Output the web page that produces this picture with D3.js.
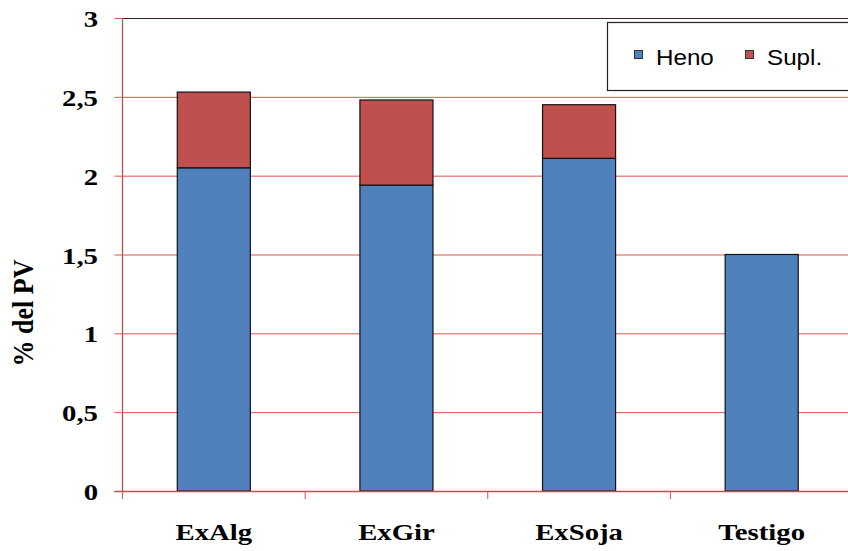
<!DOCTYPE html>
<html><head><meta charset="utf-8">
<script src="https://cdn.jsdelivr.net/npm/d3@7"></script>
<style>body{margin:0;background:#fff}svg{display:block}</style>
</head><body>
<svg id="c" width="848" height="551"></svg>
<script>
const categories = ["ExAlg", "ExGir", "ExSoja", "Testigo"];
const heno = [2.05, 1.94, 2.11, 1.50];
const supl = [0.48, 0.54, 0.34, 0];
const seriesNames = ["Heno", "Supl."];
const yTicks = [0, 0.5, 1, 1.5, 2, 2.5, 3];
const yTickLabels = ["0", "0,5", "1", "1,5", "2", "2,5", "3"];
const colors = ["#4f81bd", "#c0504d"];

const svg = d3.select("#c");
const L = 122.5, R = 853, T = 18, B = 491;
const serif = "'Liberation Serif','Times New Roman',serif";
const sans = "'Liberation Sans',Arial,sans-serif";
const SX = 1.25;

const x = d3.scaleBand().domain(categories).range([L, R]).paddingInner(0.6).paddingOuter(0.3);
const y = d3.scaleLinear().domain([0, 3]).range([B, T]);

// gridlines
svg.append("g").selectAll("line").data(yTicks.filter(d => d > 0 && d < 3)).join("line")
  .attr("x1", L).attr("x2", R).attr("y1", d => y(d) + 0.5).attr("y2", d => y(d) + 0.5)
  .attr("stroke", "#d9534f").attr("stroke-width", 1);
// top border
svg.append("line").attr("x1", L).attr("x2", R).attr("y1", y(3) + 0.5).attr("y2", y(3) + 0.5)
  .attr("stroke", "#3a2222").attr("stroke-width", 1.2);

// stacked data
const rows = categories.map((c, i) => ({cat: c, Heno: heno[i], "Supl.": supl[i]}));
const stack = d3.stack().keys(seriesNames)(rows);
svg.append("g").selectAll("g").data(stack).join("g")
  .attr("fill", (d, i) => colors[i])
  .selectAll("rect").data(d => d.filter(p => p[1] - p[0] > 0)).join("rect")
  .attr("x", d => x(d.data.cat)).attr("width", x.bandwidth())
  .attr("y", d => y(d[1])).attr("height", d => y(d[0]) - y(d[1]))
  .attr("stroke", "#111").attr("stroke-width", 1.2);

// y axis
svg.append("line").attr("x1", L).attr("x2", L).attr("y1", T).attr("y2", B)
  .attr("stroke", "#c0504d").attr("stroke-width", 1.3);
svg.append("g").selectAll("line").data(yTicks).join("line")
  .attr("x1", L - 8).attr("x2", L).attr("y1", d => y(d) + 0.5).attr("y2", d => y(d) + 0.5)
  .attr("stroke", "#d9534f");
svg.append("g").selectAll("text").data(yTicks).join("text")
  .attr("transform", d => `translate(98,${y(d) + 9}) scale(${SX},1)`)
  .attr("text-anchor", "end").attr("font-family", serif).attr("font-weight", "bold")
  .attr("font-size", 23).attr("fill", "#000")
  .text((d, i) => yTickLabels[i]);

// x axis
svg.append("line").attr("x1", L - 8).attr("x2", R).attr("y1", B + 0.5).attr("y2", B + 0.5)
  .attr("stroke", "#c0504d").attr("stroke-width", 1.3);
const step = x.step();
const bounds = d3.range(categories.length + 1).map(i => L + i * step);
svg.append("g").selectAll("line").data(bounds).join("line")
  .attr("x1", d => d).attr("x2", d => d).attr("y1", B).attr("y2", B + 8)
  .attr("stroke", "#d9534f");
svg.append("g").selectAll("text").data(categories).join("text")
  .attr("transform", d => `translate(${x(d) + x.bandwidth() / 2},540) scale(${SX},1)`)
  .attr("text-anchor", "middle").attr("font-family", serif).attr("font-weight", "bold")
  .attr("font-size", 23).attr("fill", "#000").text(d => d);

// y title
svg.append("text").attr("transform", "translate(33,313) rotate(-90) scale(1,1.15)")
  .attr("text-anchor", "middle").attr("font-family", serif).attr("font-weight", "bold")
  .attr("font-size", 26).attr("fill", "#000").text("% del PV");

// legend
const lg = svg.append("g");
lg.append("rect").attr("x", 607.5).attr("y", 22.5).attr("width", 250).attr("height", 68)
  .attr("fill", "#fff").attr("stroke", "#222").attr("stroke-width", 1.2);
const legX = [634, 745];
seriesNames.forEach((s, i) => {
  lg.append("rect").attr("x", legX[i] + 0.5).attr("y", 50.5).attr("width", 8).attr("height", 8)
    .attr("fill", colors[i]).attr("stroke", "#333");
  lg.append("text").attr("transform", `translate(${legX[i] + 22},65) scale(1.1,1)`)
    .attr("font-family", sans).attr("font-size", 22).attr("fill", "#000").text(s);
});
</script>
</body></html>
